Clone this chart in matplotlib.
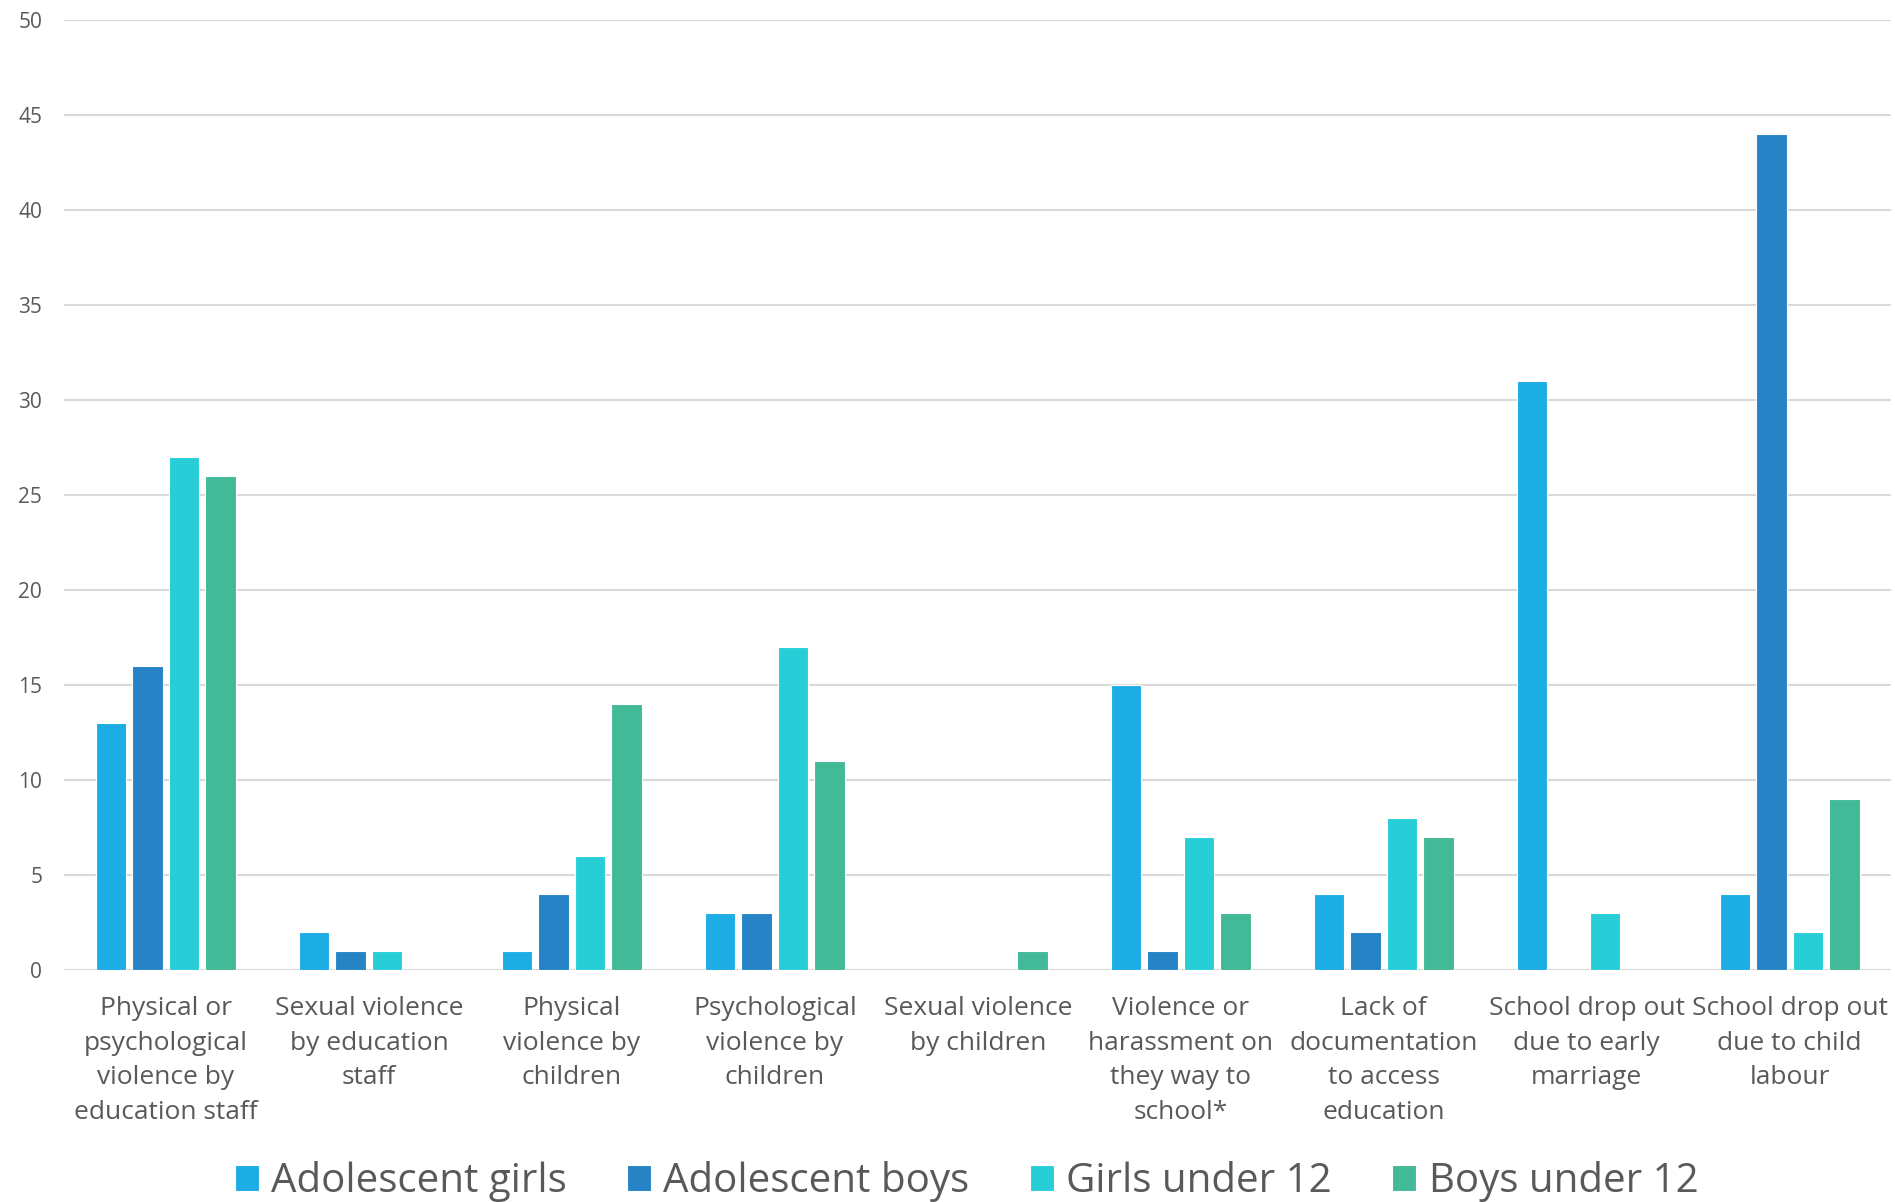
import numpy as np
import matplotlib.pyplot as plt

plt.rcParams['font.family'] = ['Open Sans', 'DejaVu Sans']

categorias = [
    'Physical or\npsychological\nviolence by\neducation staff',
    'Sexual violence\nby education\nstaff',
    'Physical\nviolence by\nchildren',
    'Psychological\nviolence by\nchildren',
    'Sexual violence\nby children',
    'Violence or\nharassment on\nthey way to\nschool*',
    'Lack of\ndocumentation\nto access\neducation',
    'School drop out\ndue to early\nmarriage',
    'School drop out\ndue to child\nlabour',
]
series = ['Adolescent girls', 'Adolescent boys', 'Girls under 12', 'Boys under 12']
adolescent_girls = [13, 2, 1, 3, 0, 15, 4, 31, 4]
adolescent_boys = [16, 1, 4, 3, 0, 1, 2, 0, 44]
girls_under_12 = [27, 1, 6, 17, 0, 7, 8, 3, 2]
boys_under_12 = [26, 0, 14, 11, 1, 3, 7, 0, 9]
colores = ['#1CADE4', '#2683C6', '#27CED7', '#42BA97']

valores = [adolescent_girls, adolescent_boys, girls_under_12, boys_under_12]

fig = plt.figure(figsize=(18.95, 12.02), dpi=100)
ax = fig.add_axes([0.034, 0.193, 0.964, 0.790])

x = np.arange(len(categorias))
paso = 0.18
ancho = 0.15
for i, (nombre, vals, col) in enumerate(zip(series, valores, colores)):
    ax.bar(x + (i - 1.5) * paso, vals, width=ancho, color=col, label=nombre,
           edgecolor='white', linewidth=0.8, zorder=3)

ax.set_xlim(-0.5, len(categorias) - 0.5)
ax.set_ylim(0, 50)
ax.set_yticks(range(0, 51, 5))
ax.yaxis.grid(True, color='#d9d9d9', linewidth=1.5, zorder=0)
for s in ax.spines.values():
    s.set_visible(False)
ax.tick_params(axis='both', length=0, colors='#595959')
ax.tick_params(axis='y', labelsize=15, pad=16)
ax.set_xticks(x)
ax.set_xticklabels(categorias, fontsize=19, linespacing=1.5, va='top')
ax.tick_params(axis='x', pad=19)

leg = fig.legend(loc='center', bbox_to_anchor=(0.51, 0.017), ncol=4,
                 frameon=False, fontsize=29, handlelength=0.6, handleheight=0.6,
                 handletextpad=0.3, columnspacing=1.5)
for t in leg.get_texts():
    t.set_color('#595959')

fig.savefig('out.png', dpi=100)
